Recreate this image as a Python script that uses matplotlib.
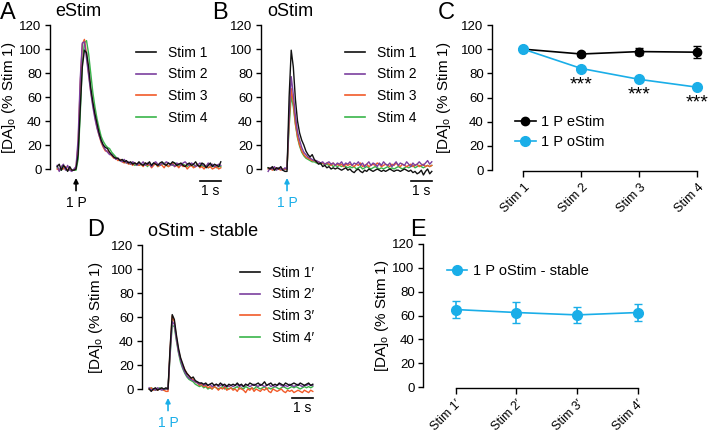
import numpy as np
import matplotlib.pyplot as plt
from matplotlib.lines import Line2D

plt.rcParams['font.family'] = ['Liberation Sans', 'DejaVu Sans']
plt.rcParams['mathtext.fontset'] = 'custom'
plt.rcParams['mathtext.rm'] = 'Liberation Sans'
plt.rcParams['mathtext.it'] = 'Liberation Sans'
plt.rcParams['axes.linewidth'] = 1.0
plt.rcParams['xtick.major.width'] = 1.0
plt.rcParams['ytick.major.width'] = 1.0

# sample times (s) relative to the stimulus, 0.1 s steps starting at -0.9 s
T0 = -0.9
DT = 0.1

# panel A, eStim traces
a_stim1 = [2, 4, -1, 3, 1, -2, 2, -1, -1, 0,
           12, 50, 85, 99, 97, 85, 68, 56, 46, 38, 30, 24, 20, 18, 17, 14, 12, 10, 9, 9,
           7, 8, 6, 7, 5, 6, 4, 5, 4, 6,
           4, 3, 5, 4, 6, 3, 5, 4, 3, 5, 6, 4, 3, 5, 4, 6, 5, 3, 4, 5,
           3, 2, 4, 5, 3, 4, 6, 3, 2, 5, 4, 1, 3, 5, 2, 4, 3, 2, 6]
a_stim2 = [3, -2, 2, 4, -1, 3, -1, -2, 0, 2,
           25, 75, 105, 106, 92, 78, 64, 52, 42, 34, 28, 23, 19, 16, 14, 12, 12, 10, 8, 9,
           7, 6, 8, 5, 6, 4, 6, 5, 3, 5,
           4, 6, 3, 5, 4, 2, 5, 6, 4, 3, 5, 4, 6, 5, 3, 4, 2, 5, 4, 3,
           5, 6, 4, 3, 5, 4, 2, 3, 5, 4, 3, 2, 5, 3, 4, 2, 3, 4, 3]
a_stim3 = [0, -1, 1, 0, 2, -1, 0, -1, -1, 1,
           20, 70, 104, 108, 96, 80, 65, 54, 44, 35, 28, 22, 18, 15, 15, 13, 11, 9, 9, 7,
           8, 6, 5, 6, 4, 5, 3, 5, 4, 3,
           4, 2, 5, 3, 4, 1, 3, 5, 2, 4, 3, 1, 4, 2, 3, 5, 2, 3, 1, 4,
           2, 3, 0, 2, 3, 1, 2, 4, 1, 2, 0, 3, 1, 2, 0, 1, 2, 0, 1]
a_stim4 = [1, 0, -1, 1, 0, -1, 0, -1, -1, -1,
           8, 45, 88, 105, 107, 96, 80, 64, 52, 42, 34, 27, 23, 20, 18, 17, 14, 12, 10, 8,
           7, 7, 6, 5, 5, 4, 5, 3, 4, 3,
           4, 3, 5, 2, 4, 3, 5, 4, 2, 3, 4, 5, 3, 2, 4, 3, 5, 4, 2, 3,
           4, 3, 2, 4, 3, 2, 3, 4, 2, 3, 2, 3, 1, 2, 3, 2, 1, 2, 2]

# panel B, oStim traces
b_stim1 = [1, 0, 2, -1, 1, 0, 2, -1, -2, -2,
           60, 99, 85, 58, 40, 30, 24, 20, 15, 12, 10, 12, 8, 6, 4, 5, 2, 3, 1, 2,
           0, 1, 0, 1, 0, -1, 0, 1, -1, 0,
           -2, -3, -1, 0, -2, -3, -1, -2, 0, -1, -2, -1, 0, -1, -2, -1, -2, -1, 0, -1,
           -2, -1, -1, -2, -1, 0, -1, -2, -1, -3, -2, -4, -3, -1, -5, -2, 0, -4, -2]
b_stim2 = [-2, 1, 0, 2, -1, 1, 0, -1, 1, 0,
           45, 77, 62, 44, 31, 24, 18, 14, 12, 10, 9, 8, 7, 7, 6, 5, 6, 4, 5, 6,
           4, 5, 3, 5, 4, 6, 3, 5, 4, 6,
           3, 5, 4, 6, 3, 5, 2, 4, 6, 3, 5, 4, 2, 5, 3, 6, 4, 3, 5, 2,
           4, 6, 3, 5, 4, 3, 6, 4, 2, 5, 3, 4, 6, 4, 3, 5, 7, 4, 6]
b_stim3 = [0, 1, -1, 0, 1, 0, -1, 0, 0, 0,
           40, 67, 55, 38, 27, 20, 15, 12, 10, 9, 8, 7, 7, 6, 6, 5, 5, 4, 5, 4,
           3, 5, 3, 4, 3, 4, 2, 4, 3, 4,
           3, 2, 4, 3, 5, 2, 3, 4, 2, 3, 4, 3, 5, 4, 2, 3, 4, 3, 2, 4,
           3, 5, 3, 2, 4, 3, 2, 3, 4, 2, 3, 4, 2, 3, 4, 2, 3, 2, 3]
b_stim4 = [1, 0, 1, -1, 0, 1, 0, -1, 0, 0,
           35, 61, 52, 37, 26, 19, 14, 11, 9, 8, 7, 6, 6, 5, 5, 4, 5, 3, 4, 3,
           4, 2, 3, 2, 3, 2, 3, 2, 1, 2,
           1, 2, 0, 1, 2, 0, 1, 2, 1, 0, 1, 2, 1, 0, 1, 0, 1, 2, 0, 1,
           0, 1, 2, 1, 0, 1, 2, 1, 2, 3, 1, 2, 3, 2, 1, 2, 3, 2, 3]

# panel D, oStim stable traces
d_stim1 = [0, -2, 0, 1, -1, 0, 1, 0, 1, 0,
           35, 62, 58, 45, 34, 26, 21, 16, 13, 11, 9, 10, 7, 6, 5, 5, 4, 5, 3, 4,
           5, 3, 4, 3, 5, 3, 4, 2, 4, 3,
           4, 3, 5, 3, 4, 2, 4, 3, 5, 4, 3, 4, 5, 3, 4, 6, 3, 4, 5, 3,
           4, 3, 5, 4, 3, 5, 4, 3, 4, 5, 4, 3, 5, 4, 3, 4, 5, 3, 4]
d_stim2 = [1, -1, 0, -1, 1, 0, -1, 0, 0, 0,
           30, 56, 54, 42, 31, 24, 18, 14, 11, 9, 8, 7, 6, 5, 4, 5, 3, 4, 3, 4,
           2, 3, 4, 2, 3, 4, 2, 3, 2, 3,
           2, 3, 4, 2, 3, 2, 4, 3, 2, 3, 4, 3, 2, 4, 3, 2, 3, 4, 2, 3,
           2, 3, 4, 3, 2, 3, 2, 4, 3, 2, 3, 4, 3, 2, 3, 3, 4, 3, 3]
d_stim3 = [0, 1, -1, 0, -1, 0, 0, -1, -2, -2,
           33, 61, 56, 43, 32, 25, 20, 16, 13, 11, 9, 8, 6, 5, 3, 4, 2, 3, 1, 2,
           0, 2, 1, -1, 1, 0, 2, -1, 0, 1,
           -1, 0, -2, 1, 0, -1, -3, 0, -1, 1, -2, 0, -1, -2, 0, -1, 1, -2, -3, 0,
           -1, -2, -1, 0, -2, -3, -1, -2, -1, -3, -2, -1, -2, -3, -1, -2, -3, -1, -2]
d_stim4 = [0, 1, 0, -1, 0, 1, 0, -1, 0, 0,
           28, 53, 52, 40, 30, 22, 17, 13, 10, 8, 7, 6, 4, 3, 2, 3, 1, 2, 0, 1,
           0, 2, 1, 0, 1, 2, 0, 1, 0, 1,
           0, 1, 2, 0, 1, 0, 2, 1, 0, 1, 0, 2, 1, 0, 1, 2, 0, 1, 0, 1,
           2, 1, 0, 1, 2, 1, 0, 1, 2, 1, 2, 1, 0, 1, 2, 1, 2, 1, 2]

# panel C summary
c_labels = ['Stim 1', 'Stim 2', 'Stim 3', 'Stim 4']
c_estim = [100, 96, 98, 97.5]
c_estim_err = [0, 1.5, 3, 5]
c_ostim = [100, 84, 75, 68.5]
c_ostim_err = [0, 1.2, 1.0, 1.2]
c_star_y = [70, 62, 55.5]

# panel E summary
e_labels = ["Stim 1\u2032", "Stim 2\u2032", "Stim 3\u2032", "Stim 4\u2032"]
e_ostim = [65, 62.5, 60.5, 62.5]
e_ostim_err = [7, 8.5, 7, 7]

trace_colors = ['#111111', '#7b3f9e', '#f15a29', '#39b54a']
BLUE = '#1aaee8'
YLAB = r'[DA]$_{\rm o}$ (% Stim 1)'

W, H = 709, 432
fig = plt.figure(figsize=(W / 100, H / 100), dpi=100)


def add_ax(x0, x1, y0, y1):
    # pixel box, y measured from the top
    ax = fig.add_axes([x0 / W, 1 - y1 / H, (x1 - x0) / W, (y1 - y0) / H])
    ax.px = (x0, x1)
    return ax


def set_ylab(ax, xpx, yfrac):
    ax.set_ylabel(YLAB, fontsize=11)
    x0, x1 = ax.px
    ax.yaxis.set_label_coords((xpx - x0) / (x1 - x0), yfrac)


def style_y(ax):
    ax.spines['top'].set_visible(False)
    ax.spines['right'].set_visible(False)
    ax.spines['left'].set_bounds(0, 120)
    ax.set_yticks(range(0, 121, 20))
    ax.tick_params(axis='y', length=3.5, labelsize=9.5, pad=2.5)


def trace_panel(ax, traces, labels, t_left, t_right, bar_y, arrow_color,
                leg_anchor):
    ax.set_xlim(t_left, t_right)
    ax.set_ylim(-20, 120)
    style_y(ax)
    ax.spines['bottom'].set_visible(False)
    ax.set_xticks([])
    for i in range(3, -1, -1):
        y = np.array(traces[i])
        t = T0 + DT * np.arange(len(y))
        ax.plot(t, y, color=trace_colors[i], lw=1.0, zorder=5 - i)
    handles = [Line2D([], [], color=c, lw=1.2) for c in trace_colors]
    ax.legend(handles, labels, loc='upper left', bbox_to_anchor=leg_anchor,
              frameon=False, fontsize=10, handlelength=1.4,
              handletextpad=0.9, labelspacing=0.56, borderaxespad=0)
    # scale bar 1 s
    t_end = T0 + DT * (len(traces[0]) - 1)
    ax.plot([t_end - 1.0, t_end], [bar_y, bar_y], color='k', lw=1.2,
            clip_on=False)
    ax.text(t_end - 0.5, bar_y - 2.5, '1 s', ha='center', va='top',
            fontsize=10)
    # stimulus arrow
    ax.annotate('', xy=(0, -7.5), xytext=(0, -18),
                arrowprops=dict(arrowstyle='-|>', color=arrow_color, lw=1.2,
                                mutation_scale=7, shrinkA=0, shrinkB=0),
                annotation_clip=False)
    ax.text(0, -22.5, '1 P', ha='center', va='top', fontsize=10,
            color=arrow_color)


def summary_style(ax, labels):
    ax.set_xlim(-0.54, 3.2)
    ax.set_ylim(0, 120)
    style_y(ax)
    ax.spines['bottom'].set_bounds(0, 3)
    ax.spines['bottom'].set_position(('outward', 1))
    ax.set_xticks(range(4))
    ax.set_xticklabels(labels, rotation=45, ha='right',
                       rotation_mode='anchor', fontsize=9)
    ax.tick_params(axis='x', length=4, pad=3)


# ---- A ----
axA = add_ax(50, 225, 25, 193)
trace_panel(axA, [a_stim1, a_stim2, a_stim3, a_stim4],
            ['Stim 1', 'Stim 2', 'Stim 3', 'Stim 4'],
            -1.24, 7.1, -10, 'k', (0.46, 0.91))
set_ylab(axA, 18, 0.57)

# ---- B ----
axB = add_ax(261, 436, 25, 193)
trace_panel(axB, [b_stim1, b_stim2, b_stim3, b_stim4],
            ['Stim 1', 'Stim 2', 'Stim 3', 'Stim 4'],
            -1.24, 7.1, -10, BLUE, (0.45, 0.91))

# ---- D ----
axD = add_ax(142, 317, 245, 413)
trace_panel(axD, [d_stim1, d_stim2, d_stim3, d_stim4],
            ["Stim 1\u2032", "Stim 2\u2032", "Stim 3\u2032", "Stim 4\u2032"],
            -1.24, 7.1, -7.5, BLUE, (0.53, 0.91))
set_ylab(axD, 105, 0.57)

# ---- C ----
axC = add_ax(492, 709, 25, 170)
xc = np.arange(len(c_labels))
axC.errorbar(xc, c_estim, yerr=c_estim_err, color='k', marker='o', ms=6,
             lw=1.2, capsize=3, elinewidth=1.2, zorder=3)
axC.errorbar(xc, c_ostim, yerr=c_ostim_err, color=BLUE, marker='o', ms=7,
             lw=1.2, capsize=3, elinewidth=1.2, zorder=4)
for x, y in zip(xc[1:], c_star_y):
    axC.text(x, y, '***', ha='center', va='center', fontsize=14)
summary_style(axC, c_labels)
set_ylab(axC, 453, 0.5)
c_handles = [Line2D([], [], color='k', marker='o', ms=6, lw=1.2),
             Line2D([], [], color=BLUE, marker='o', ms=7, lw=1.2)]
axC.legend(c_handles, ['1 P eStim', '1 P oStim'], loc='upper left',
           bbox_to_anchor=(0.08, 0.42), frameon=False, fontsize=10.5,
           handlelength=1.4, handletextpad=0.4, labelspacing=0.4,
           borderaxespad=0)

# ---- E ----
axE = add_ax(423, 650, 244, 387)
xe = np.arange(len(e_labels))
axE.errorbar(xe, e_ostim, yerr=e_ostim_err, color=BLUE, marker='o', ms=7,
             lw=1.2, capsize=3, elinewidth=1.2)
summary_style(axE, e_labels)
set_ylab(axE, 391, 0.5)
axE.legend([Line2D([], [], color=BLUE, marker='o', ms=7, lw=1.2)],
           ['1 P oStim - stable'], loc='upper left',
           bbox_to_anchor=(0.08, 0.9), frameon=False, fontsize=10.5,
           handlelength=1.4, handletextpad=0.4, borderaxespad=0)

# titles and panel letters
fig.text(55 / W, 1 - 12 / H, 'eStim', fontsize=13, va='center')
fig.text(267 / W, 1 - 12 / H, 'oStim', fontsize=13, va='center')
fig.text(148 / W, 1 - 231 / H, 'oStim - stable', fontsize=13, va='center')
for letter, x, y in [('A', 0, 13), ('B', 212, 13), ('C', 438, 13),
                     ('D', 87, 230), ('E', 410, 230)]:
    fig.text(x / W, 1 - y / H, letter, fontsize=17, va='center')

fig.savefig('out.png', dpi=100)
